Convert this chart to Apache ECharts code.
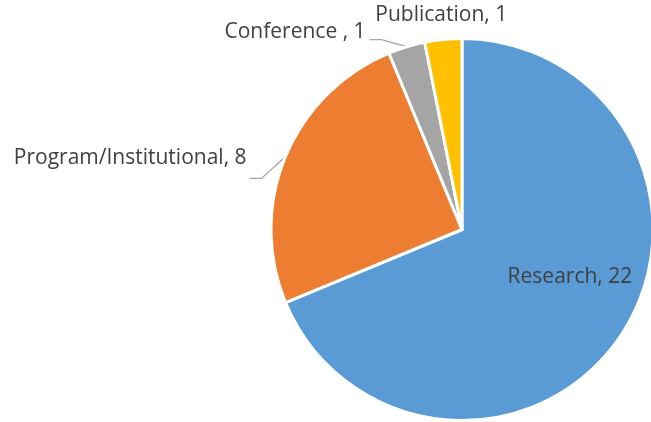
<!DOCTYPE html>
<html>
<head>
<meta charset="utf-8">
<script src="https://cdn.jsdelivr.net/npm/echarts@6/dist/echarts.min.js"></script>
<style>
  html, body { margin: 0; padding: 0; background: #fff; }
  #chart { width: 651px; height: 422px; }
</style>
</head>
<body>
<div id="chart"></div>
<script>
// data
const categories = ['Research', 'Program/Institutional', 'Conference ', 'Publication'];
const values = [22, 8, 1, 1];
const colors = ['#5B9BD5', '#ED7D31', '#A5A5A5', '#FFC000'];

// pie geometry
const cx = 462, cy = 229.5, R = 191;

// where each outside label goes, relative to the slice edge at mid angle
// elbow: first bend of the leader, tail: horizontal part, dy: text middle vs line
const labelPlace = {
  1: { elbow: [-24, 22], tail: 12, gap: 3, dy: -20 },
  2: { elbow: [-25, -7], tail: 12, gap: 4, dy: -8 },
  3: { noLine: true, dx: -2, dy: -24 }
};

const total = values.reduce((a, b) => a + b, 0);

function edgePoint(i) {
  let before = 0;
  for (let k = 0; k < i; k++) before += values[k];
  const a = ((before + values[i] / 2) / total) * Math.PI * 2;
  return [cx + R * Math.sin(a), cy - R * Math.cos(a)];
}

const chart = echarts.init(document.getElementById('chart'));

const option = {
  animation: false,
  series: [
    {
      type: 'pie',
      center: [cx, cy],
      radius: R,
      startAngle: 90,
      clockwise: true,
      avoidLabelOverlap: false,
      itemStyle: { borderColor: '#fff', borderWidth: 3 },
      label: {
        show: true,
        position: 'outside',
        formatter: '{b}, {c}',
        fontFamily: 'Open Sans',
        fontSize: 21,
        color: '#404040'
      },
      labelLine: {
        show: true,
        lineStyle: { color: '#A6A6A6', width: 1.3 }
      },
      labelLayout: function (params) {
        const p = labelPlace[params.dataIndex];
        if (!p) return {};
        const e = edgePoint(params.dataIndex);
        if (p.noLine) {
          return { x: e[0] + p.dx, y: e[1] + p.dy, align: 'center', verticalAlign: 'middle' };
        }
        const b = [e[0] + p.elbow[0], e[1] + p.elbow[1]];
        const t = [b[0] - p.tail, b[1]];
        return {
          x: t[0] - p.gap,
          y: t[1] + p.dy,
          align: 'right',
          verticalAlign: 'middle',
          labelLinePoints: [e, b, t]
        };
      },
      data: categories.map((name, i) => ({
        name: name,
        value: values[i],
        itemStyle: { color: colors[i] },
        label: i === 0 ? { position: 'inside', offset: [26, -7] } : {},
        labelLine: { show: i === 1 || i === 2 }
      }))
    }
  ]
};

chart.setOption(option);
</script>
</body>
</html>
